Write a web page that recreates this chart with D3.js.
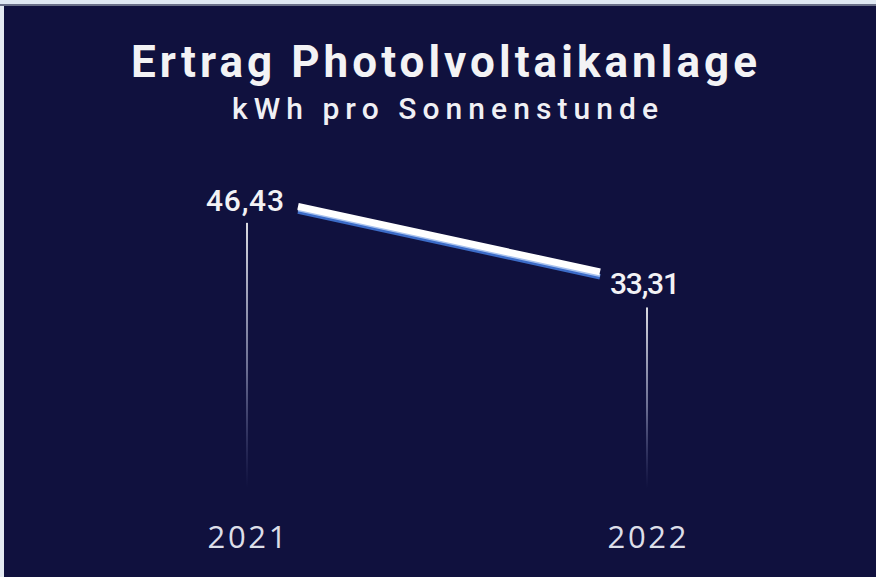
<!DOCTYPE html>
<html><head><meta charset="utf-8">
<script src="https://cdn.jsdelivr.net/npm/d3@7"></script>
<style>
html,body{margin:0;padding:0;background:#e4eaf1;}
svg{display:block;}
</style></head>
<body>
<script>
const years = ["2021", "2022"];
const values = [46.43, 33.31];
const valueLabels = ["46,43", "33,31"];
const title = "Ertrag Photolvoltaikanlage";
const subtitle = "kWh pro Sonnenstunde";

const W = 876, H = 577;
const svg = d3.select("body").append("svg").attr("width", W).attr("height", H);

const defs = svg.append("defs");
const fade = defs.append("linearGradient").attr("id", "fade")
  .attr("x1", 0).attr("y1", 0).attr("x2", 0).attr("y2", 1);
fade.append("stop").attr("offset", "0%").attr("stop-color", "#ffffff").attr("stop-opacity", 0.85);
fade.append("stop").attr("offset", "55%").attr("stop-color", "#c8cde8").attr("stop-opacity", 0.5);
fade.append("stop").attr("offset", "100%").attr("stop-color", "#8088c0").attr("stop-opacity", 0);

// frame
svg.append("rect").attr("x", 0).attr("y", 0).attr("width", W).attr("height", 5).attr("fill", "#dfe8f2");
svg.append("rect").attr("x", 0).attr("y", 4).attr("width", W).attr("height", 2).attr("fill", "#6a7088");
svg.append("rect").attr("x", 4).attr("y", 6).attr("width", W - 4).attr("height", H - 6).attr("fill", "#10113e");

// titles
svg.append("text").text(title)
  .attr("x", 444).attr("y", 77).attr("text-anchor", "middle")
  .attr("font-family", "Roboto, 'DejaVu Sans', sans-serif").attr("font-weight", 700)
  .attr("font-size", 44).attr("fill", "#f3f3f5")
  .attr("textLength", 626).attr("lengthAdjust", "spacing");
svg.append("text").text(subtitle)
  .attr("x", 445).attr("y", 119).attr("text-anchor", "middle")
  .attr("font-family", "Roboto, 'DejaVu Sans', sans-serif").attr("font-weight", 500)
  .attr("font-size", 30).attr("fill", "#f0f0f4")
  .attr("textLength", 426).attr("lengthAdjust", "spacing");

// scales
const x = d3.scalePoint().domain(years).range([247, 647]);
const y = d3.scaleLinear().domain([0, 50]).range([439, 189]);

// vertical drop lines
svg.selectAll("rect.drop").data(years).enter().append("rect")
  .attr("class", "drop")
  .attr("x", d => x(d) - 1)
  .attr("y", (d, i) => y(values[i]) + 16 + (i === 1 ? 19 : 0))
  .attr("width", 2)
  .attr("height", (d, i) => 488 - (y(values[i]) + 16 + (i === 1 ? 19 : 0)))
  .attr("fill", "url(#fade)");

// connecting line (inset from the year positions)
const inset = [51, -47];
const pts = years.map((d, i) => [x(d) + inset[i], y(values[i])]);
const line = d3.line();
svg.append("path").attr("d", line(pts.map(p => [p[0], p[1] + 4.5])))
  .attr("stroke", "#3c6cc8").attr("stroke-width", 5).attr("fill", "none");
svg.append("path").attr("d", line(pts.map(p => [p[0], p[1] + 3])))
  .attr("stroke", "#a9c2ee").attr("stroke-width", 3).attr("fill", "none");
svg.append("path").attr("d", line(pts.map(p => [p[0], p[1] - 0.5])))
  .attr("stroke", "#ffffff").attr("stroke-width", 7).attr("fill", "none");

// value labels
svg.append("text").text(valueLabels[0])
  .attr("x", x(years[0]) + 37).attr("y", y(values[0]) + 4)
  .attr("text-anchor", "end")
  .attr("font-family", "Roboto, 'DejaVu Sans', sans-serif").attr("font-weight", 500)
  .attr("font-size", 30).attr("fill", "#f2f2f5")
  .attr("textLength", 78).attr("lengthAdjust", "spacing");
svg.append("text").text(valueLabels[1])
  .attr("x", x(years[1]) - 37).attr("y", y(values[1]) + 22)
  .attr("text-anchor", "start")
  .attr("font-family", "Roboto, 'DejaVu Sans', sans-serif").attr("font-weight", 500)
  .attr("font-size", 30).attr("fill", "#f2f2f5")
  .attr("textLength", 70).attr("lengthAdjust", "spacing");

// year labels
svg.selectAll("text.year").data(years).enter().append("text")
  .attr("class", "year").text(d => d)
  .attr("x", d => x(d)).attr("y", 548).attr("text-anchor", "middle")
  .attr("font-family", "'Open Sans', sans-serif").attr("font-size", 31)
  .attr("fill", "#dcdee8")
  .attr("textLength", 79).attr("lengthAdjust", "spacing");
</script>
</body></html>
